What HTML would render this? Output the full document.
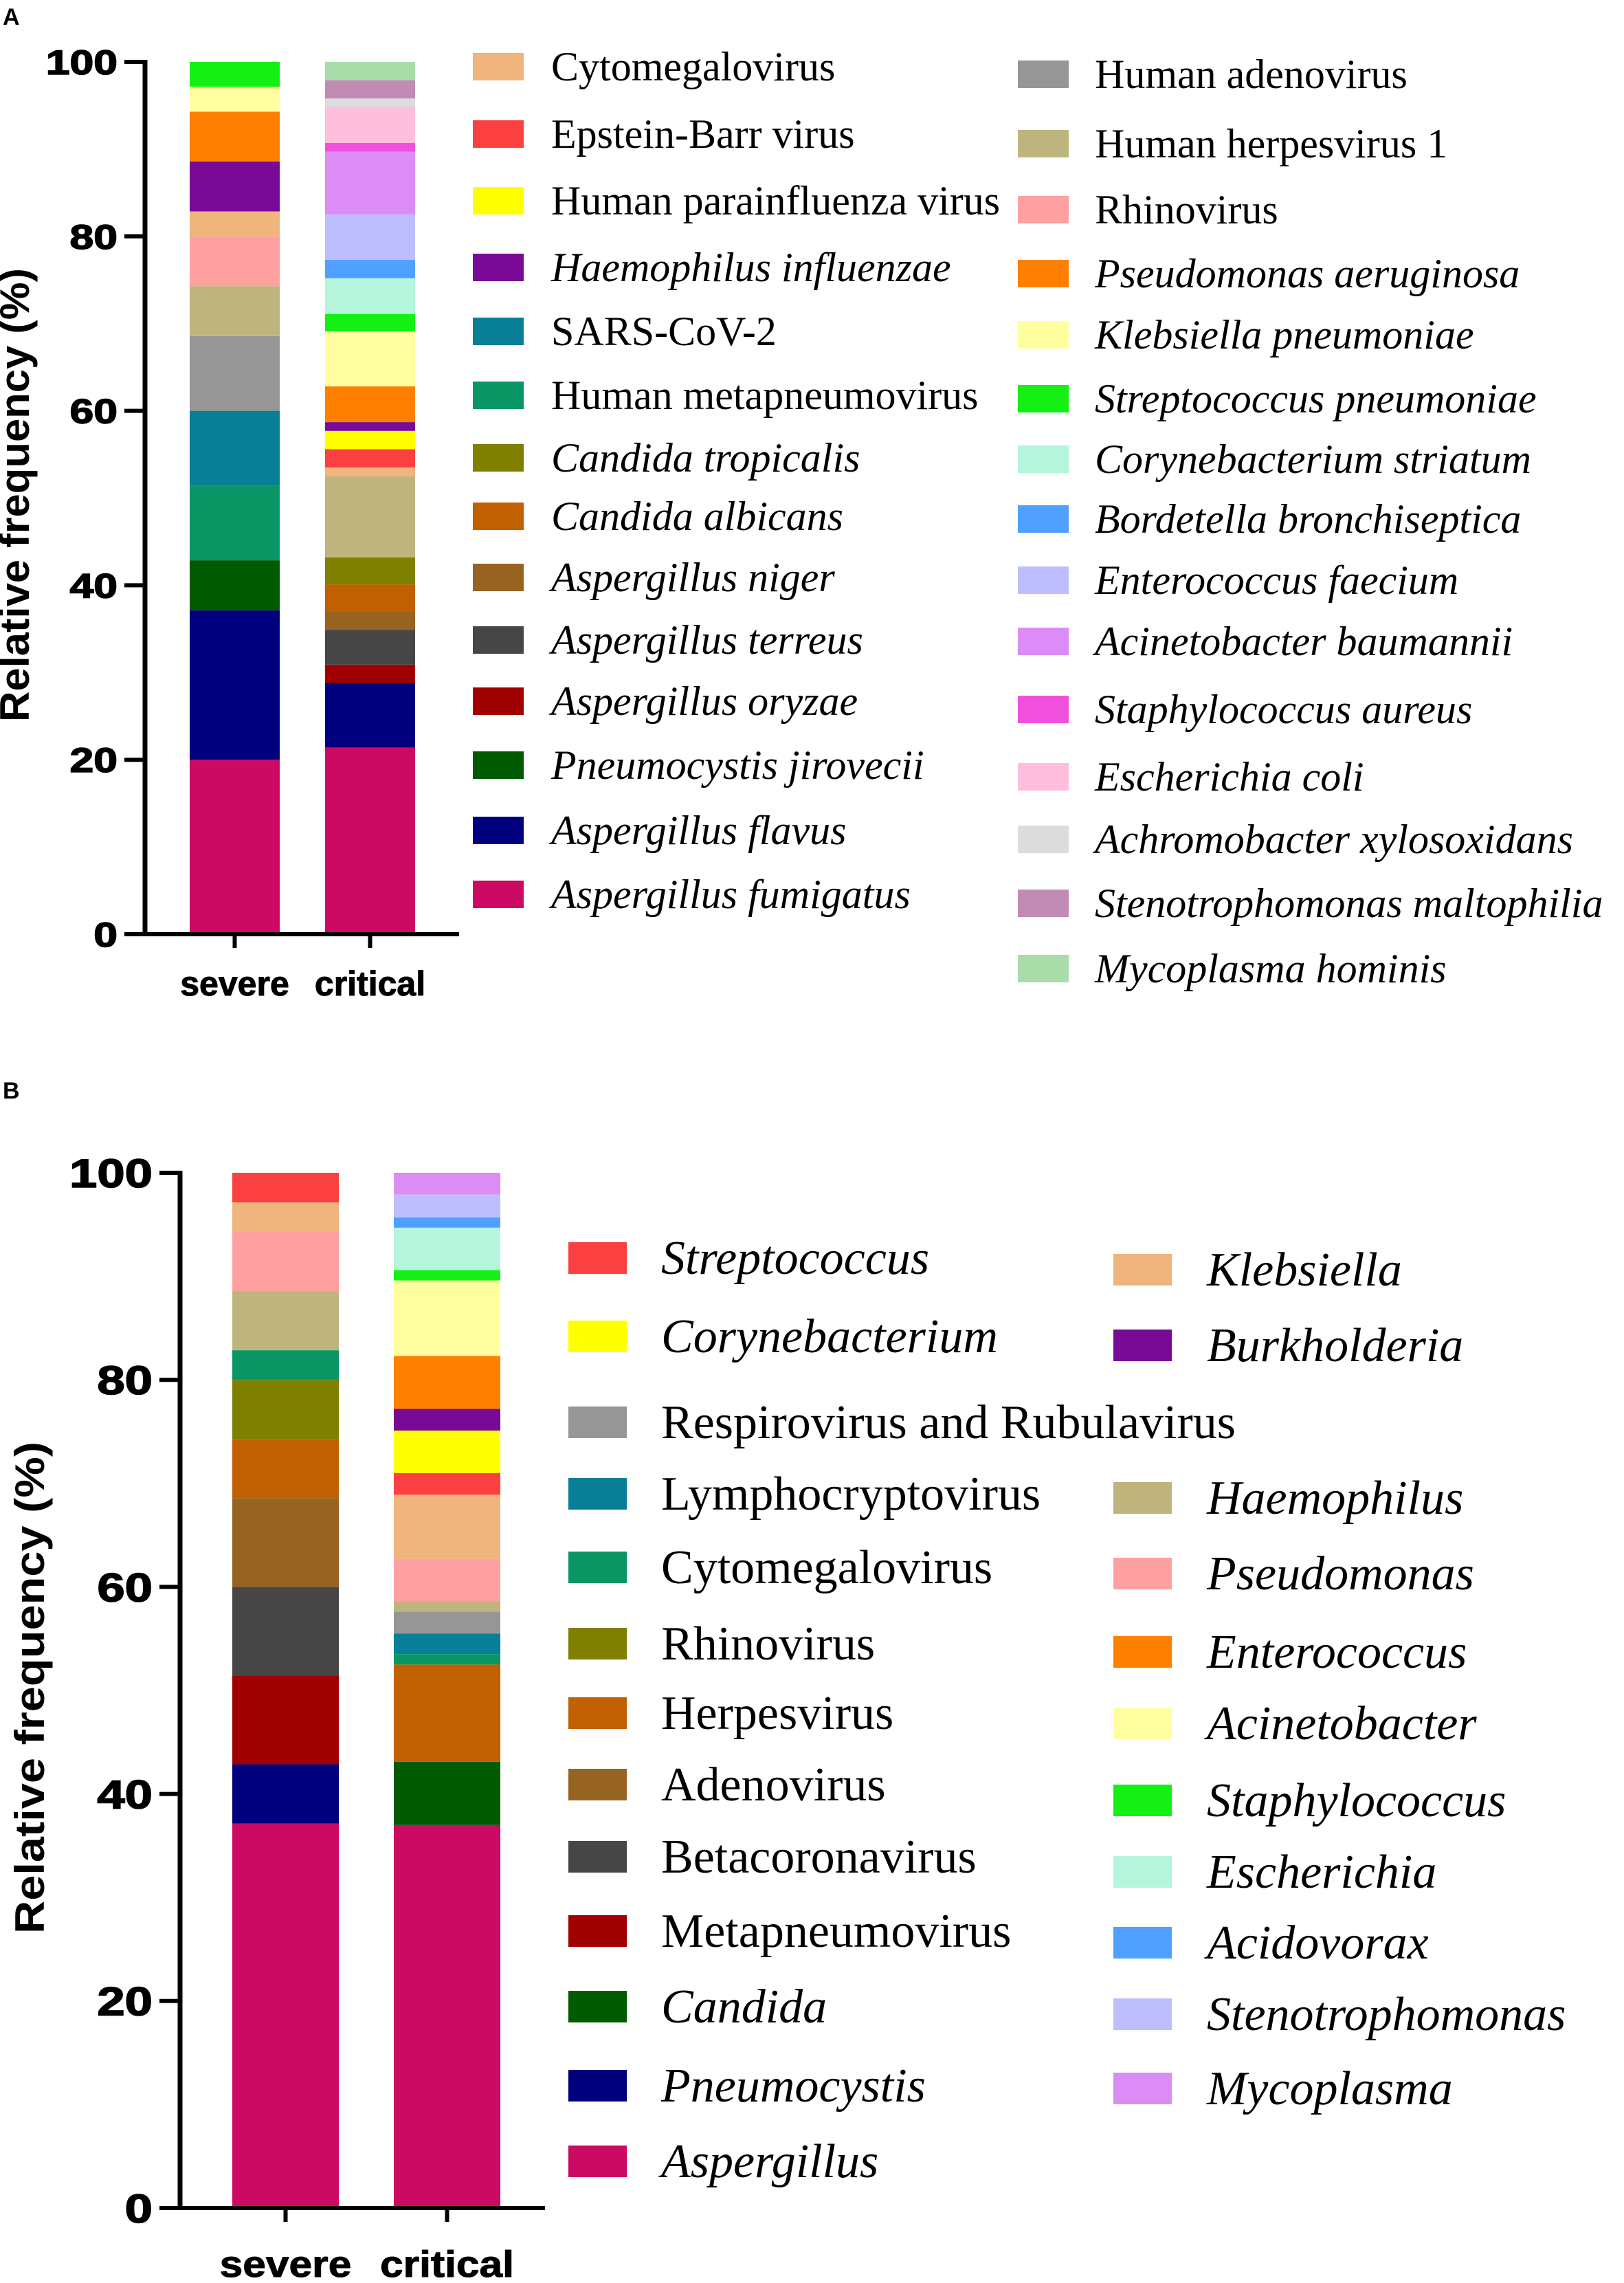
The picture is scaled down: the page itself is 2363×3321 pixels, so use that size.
<!DOCTYPE html>
<html><head><meta charset="utf-8"><style>
html,body{margin:0;padding:0;background:#fff;}
svg{display:block;}
.tick{font-family:"Liberation Sans",sans-serif;font-weight:bold;}
.leg{font-family:"Liberation Serif",serif;}
</style></head><body>
<svg id="fig" xmlns="http://www.w3.org/2000/svg" width="2363" height="3321" viewBox="0 0 2363 3321">
<rect width="2363" height="3321" fill="#fff"/>
<text x="4" y="36" font-family="Liberation Sans,sans-serif" font-weight="bold" font-size="34">A</text>
<text x="4" y="1598" font-family="Liberation Sans,sans-serif" font-weight="bold" font-size="34">B</text>
<g id="pa"></g>
<g id="pb"></g>
</svg>
<script>
// Panel A data (stack order bottom-up)
const catsA = ["severe","critical"];
const namesA = ["Aspergillus fumigatus","Aspergillus flavus","Aspergillus oryzae","Aspergillus terreus","Aspergillus niger","Candida albicans","Candida tropicalis","Pneumocystis jirovecii","Human metapneumovirus","SARS-CoV-2","Human adenovirus","Human herpesvirus 1","Rhinovirus","Cytomegalovirus","Epstein-Barr virus","Human parainfluenza virus","Haemophilus influenzae","Pseudomonas aeruginosa","Klebsiella pneumoniae","Streptococcus pneumoniae","Corynebacterium striatum","Bordetella bronchiseptica","Enterococcus faecium","Acinetobacter baumannii","Staphylococcus aureus","Escherichia coli","Achromobacter xylosoxidans","Stenotrophomonas maltophilia","Mycoplasma hominis"];
const colorsA = ["#CC0A64","#00007F","#A00000","#464646","#966420","#C06000","#7F7F00","#005A00","#0A9664","#087F96","#969696","#BEB47D","#FFA0A0","#F0B47D","#FA4040","#FFFF00","#780A96","#FF7F00","#FFFFA0","#14F014","#B4F5DC","#50A0FF","#BEBEFF","#DC8CF5","#F050DC","#FFBEDC","#DCDCDC","#C08CB4","#AADCAA"];
const severeA = [20,17.14,0,0,0,0,0,5.72,8.57,8.57,8.57,5.72,5.71,2.86,0,0,5.71,5.72,2.85,2.86,0,0,0,0,0,0,0,0,0];
const criticalA = [21.4,7.4,2.1,4.0,2.1,3.1,3.1,0,0,0,0,9.3,0,1.0,2.1,2.1,1.0,4.1,6.3,2.0,4.1,2.1,5.2,7.2,1.0,4.1,1.0,2.1,2.1];
const italicA = [1,1,1,1,1,1,1,1,0,0,0,0,0,0,0,0,1,1,1,1,1,1,1,1,1,1,1,1,1];
const legendA1 = ["Cytomegalovirus","Epstein-Barr virus","Human parainfluenza virus","Haemophilus influenzae","SARS-CoV-2","Human metapneumovirus","Candida tropicalis","Candida albicans","Aspergillus niger","Aspergillus terreus","Aspergillus oryzae","Pneumocystis jirovecii","Aspergillus flavus","Aspergillus fumigatus"];
const legendA2 = ["Human adenovirus","Human herpesvirus 1","Rhinovirus","Pseudomonas aeruginosa","Klebsiella pneumoniae","Streptococcus pneumoniae","Corynebacterium striatum","Bordetella bronchiseptica","Enterococcus faecium","Acinetobacter baumannii","Staphylococcus aureus","Escherichia coli","Achromobacter xylosoxidans","Stenotrophomonas maltophilia","Mycoplasma hominis"];
const ticksA = [0,20,40,60,80,100];

// Panel B data
const catsB = ["severe","critical"];
const namesB = ["Aspergillus","Pneumocystis","Candida","Metapneumovirus","Betacoronavirus","Adenovirus","Herpesvirus","Rhinovirus","Cytomegalovirus","Lymphocryptovirus","Respirovirus and Rubulavirus","Haemophilus","Pseudomonas","Klebsiella","Streptococcus","Corynebacterium","Burkholderia","Enterococcus","Acinetobacter","Staphylococcus","Escherichia","Acidovorax","Stenotrophomonas","Mycoplasma"];
const colorsB = ["#CC0A64","#00007F","#005A00","#A00000","#464646","#966420","#C06000","#7F7F00","#0A9664","#087F96","#969696","#BEB47D","#FFA0A0","#F0B47D","#FA4040","#FFFF00","#780A96","#FF7F00","#FFFFA0","#14F014","#B4F5DC","#50A0FF","#BEBEFF","#DC8CF5"];
const severeB = [37.14,5.72,0,8.57,8.57,8.57,5.72,5.71,2.86,0,0,5.71,5.72,2.85,2.86,0,0,0,0,0,0,0,0,0];
const criticalB = [37.0,0,6.1,0,0,0,9.4,0,1.0,2.0,2.1,1.0,4.1,6.2,2.1,4.1,2.1,5.1,7.3,1.0,4.1,1.0,2.2,2.1];
const italicB = [1,1,1,0,0,0,0,0,0,0,0,1,1,1,1,1,1,1,1,1,1,1,1,1];
const legendB1 = ["Streptococcus","Corynebacterium","Respirovirus and Rubulavirus","Lymphocryptovirus","Cytomegalovirus","Rhinovirus","Herpesvirus","Adenovirus","Betacoronavirus","Metapneumovirus","Candida","Pneumocystis","Aspergillus"];
const legendB2 = ["Klebsiella","Burkholderia","Haemophilus","Pseudomonas","Enterococcus","Acinetobacter","Staphylococcus","Escherichia","Acidovorax","Stenotrophomonas","Mycoplasma"];
const ticksB = [0,20,40,60,80,100];

const NS = "http://www.w3.org/2000/svg";
function mk(parent, tag, attrs, txt){
  const e = document.createElementNS(NS, tag);
  for (const k in attrs) e.setAttribute(k, attrs[k]);
  if (txt !== undefined) e.textContent = txt;
  parent.appendChild(e);
  return e;
}
function slug(s){return s.toLowerCase().replace(/[^a-z0-9]+/g,'-').replace(/-$/,'');}

function drawPanel(g, cfg){
  const yScale = v => cfg.y0 - (cfg.y0 - cfg.y100) * v / 100;
  const series = [cfg.sev, cfg.crit];
  cfg.cats.forEach((c, ci) => {
    let acc = 0;
    const x = cfg.barX[ci];
    cfg.names.forEach((n, i) => {
      const v = series[ci][i];
      if (v <= 0) return;
      const yt = yScale(acc + v), yb = yScale(acc);
      const r = mk(g, 'rect', {x: x, y: yt, width: cfg.barW, height: yb - yt, fill: cfg.colors[i]});
      
      
      acc += v;
    });
  });
  const ya = mk(g, 'line', {x1: cfg.axX, y1: cfg.y100 - 3, x2: cfg.axX, y2: cfg.y0 + 3, stroke: '#000', 'stroke-width': 7});
  
  
  const xa = mk(g, 'line', {x1: cfg.axX - 30, y1: cfg.y0, x2: cfg.xEnd, y2: cfg.y0, stroke: '#000', 'stroke-width': 6});
  
  
  cfg.ticks.forEach(t => {
    const y = yScale(t);
    const tl = mk(g, 'line', {x1: cfg.axX - 30, y1: y, x2: cfg.axX, y2: y, stroke: '#000', 'stroke-width': 6});
    
    
    const ax = cfg.axX - 40;
    const tx = mk(g, 'text', {x: ax, y: y + cfg.tfs * 0.36, 'text-anchor': 'end', 'font-size': cfg.tfs, class: 'tick', stroke: '#000', 'stroke-width': 1.5, transform: 'translate(' + ax + ',0) scale(1.25,1) translate(' + (-ax) + ',0)'}, String(t));
    
    
  });
  cfg.cats.forEach((c, ci) => {
    const cx = cfg.barX[ci] + cfg.barW / 2;
    const tk = mk(g, 'line', {x1: cx, y1: cfg.y0, x2: cx, y2: cfg.y0 + 20, stroke: '#000', 'stroke-width': 6});
    
    
    const lb = mk(g, 'text', {x: cx, y: cfg.catY, 'text-anchor': 'middle', 'font-size': cfg.cfs, class: 'tick', stroke: '#000', 'stroke-width': 1, transform: 'translate(' + cx + ',0) scale(' + cfg.cscale + ',1) translate(' + (-cx) + ',0)'}, c);
    
    
  });
  const yt = mk(g, 'text', {x: 0, y: 0, 'text-anchor': 'middle', 'font-size': 60, 'font-family': 'Liberation Sans,sans-serif', 'font-weight': 'bold', textLength: cfg.ytLen, lengthAdjust: 'spacingAndGlyphs', transform: 'translate(' + cfg.ytX + ',' + cfg.ytY + ') rotate(-90)'}, 'Relative frequency (%)');
  
  
  cfg.legends.forEach(L => {
    L.items.forEach((n, k) => {
      const i = cfg.names.indexOf(n);
      const yc = L.ys[k];
      const sw = mk(g, 'rect', {x: L.swX, y: yc - cfg.swH / 2, width: cfg.swW, height: cfg.swH, fill: cfg.colors[i]});
      
      
      const tx = mk(g, 'text', {x: L.txX, y: yc + cfg.fs * 0.33, 'font-size': cfg.fs, class: 'leg', 'font-style': cfg.italic[i] ? 'italic' : 'normal'}, n);
      
      
    });
  });
}

drawPanel(document.getElementById('pa'), {
  cats: catsA, names: namesA, colors: colorsA, sev: severeA, crit: criticalA, italic: italicA, ticks: ticksA,
  y0: 1359, y100: 90, axX: 211, xEnd: 668, barX: [276, 473], barW: 131, catY: 1448, tfs: 50, cfs: 50, cscale: 1.0,
  ytX: 42, ytY: 720, ytLen: 660, fs: 60, swW: 74, swH: 40,
  legends: [
    {items: legendA1, swX: 688, txX: 802, ys: [97,195,292,389,482,575,666,751,840,931,1020,1113,1208,1301]},
    {items: legendA2, swX: 1481, txX: 1593, ys: [108,209,305,398,487,580,668,755,844,933,1032,1130,1221,1314,1409]}
  ]
});
drawPanel(document.getElementById('pb'), {
  cats: catsB, names: namesB, colors: colorsB, sev: severeB, crit: criticalB, italic: italicB, ticks: ticksB,
  y0: 3212, y100: 1706, axX: 262, xEnd: 793, barX: [338, 573], barW: 155, catY: 3312, tfs: 58, cfs: 54, cscale: 1.12,
  ytX: 64, ytY: 2455, ytLen: 716, fs: 70, swW: 85, swH: 46,
  legends: [
    {items: legendB1, swX: 827, txX: 962, ys: [1830,1944,2069,2173,2280,2391,2492,2596,2701,2809,2919,3034,3144]},
    {items: legendB2, swX: 1620, txX: 1756, ys: [1847,1957,2179,2289,2403,2507,2619,2723,2826,2930,3038]}
  ]
});
</script>
</body></html>
